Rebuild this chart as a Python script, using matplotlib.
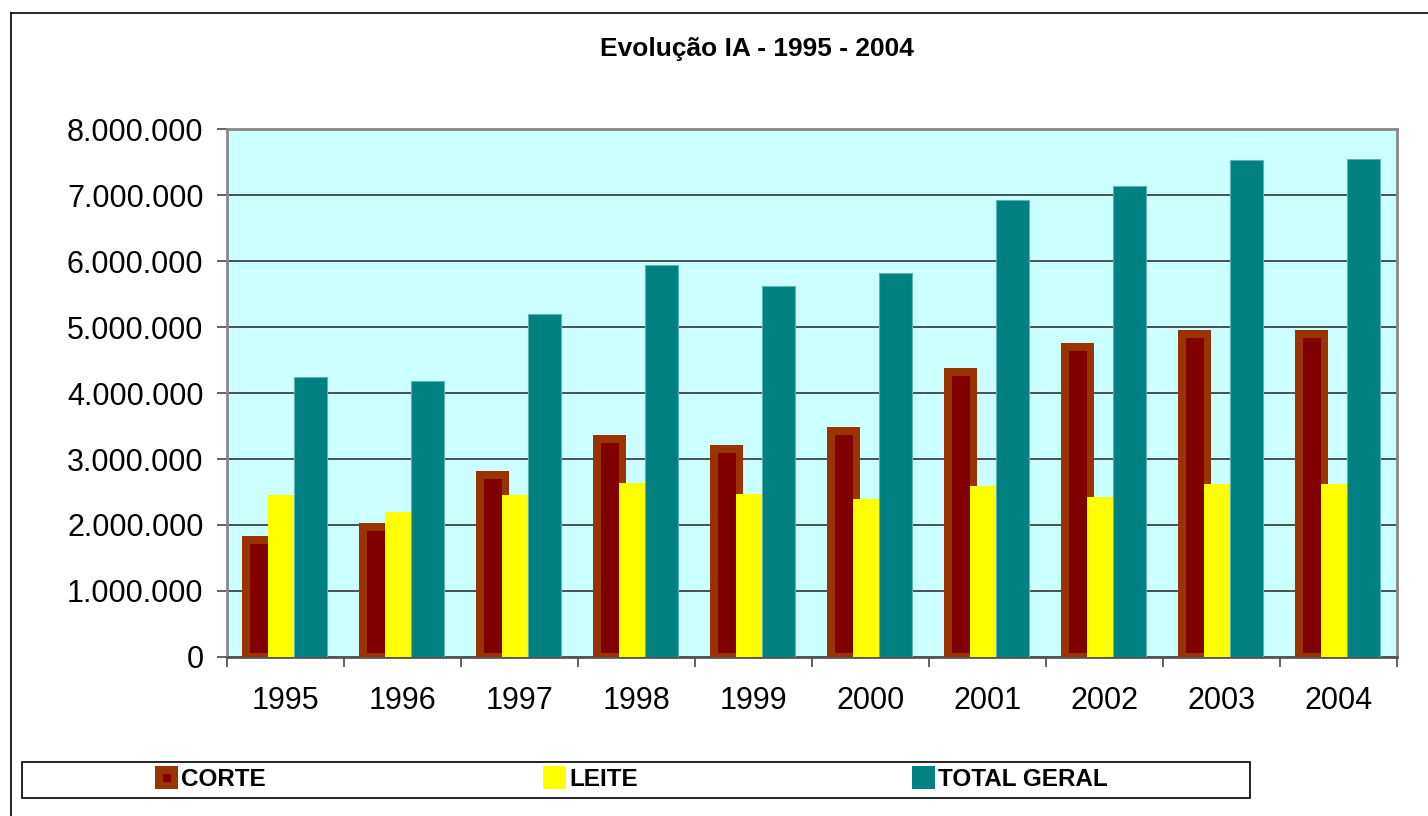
import numpy as np
import matplotlib.pyplot as plt
from matplotlib.patches import Rectangle
from matplotlib.lines import Line2D
from matplotlib.ticker import FuncFormatter, FixedLocator

plt.rcParams['font.family'] = ['Liberation Sans', 'DejaVu Sans']

anos = ['1995', '1996', '1997', '1998', '1999', '2000', '2001', '2002', '2003', '2004']
corte = [1830000, 2030000, 2820000, 3360000, 3210000, 3480000, 4380000, 4760000, 4950000, 4950000]
leite = [2450000, 2200000, 2450000, 2640000, 2470000, 2390000, 2590000, 2420000, 2620000, 2620000]
total_geral = [4240000, 4180000, 5200000, 5940000, 5620000, 5820000, 6920000, 7140000, 7530000, 7550000]
series_nomes = ['CORTE', 'LEITE', 'TOTAL GERAL']

W, H = 1428, 816
fig = plt.figure(figsize=(W / 100, H / 100), dpi=100)

# outer chart frame
fig.add_artist(Line2D([11 / W, 11 / W], [0, 1 - 13 / H], color='black', lw=1.2))
fig.add_artist(Line2D([11 / W, 1], [1 - 13 / H, 1 - 13 / H], color='black', lw=1.2))

ax = fig.add_axes([227 / W, 1 - 657 / H, (1397 - 227) / W, (657 - 129) / H])
ax.set_facecolor('#CCFFFF')

x = np.arange(len(anos))
cat_px = (1397 - 227) / len(anos)
w = 33.3 / cat_px
ins = 7.7 / cat_px
y_px = 8000000 / (657 - 129)

ax.bar(x - 0.371, corte, width=w, align='edge', color='#993300', zorder=3)
ax.bar(x - 0.371 + ins, np.array(corte) - 7.7 * y_px - 4 * y_px, bottom=4 * y_px,
       width=w - 2 * ins, align='edge', color='#800000', zorder=3)
ax.bar(x - 0.149, leite, width=w, align='edge', color='#FFFF00', zorder=4)
ax.bar(x + 0.073, total_geral, width=w, align='edge', color='#008080',
       edgecolor='#5FB3B3', linewidth=0.8, zorder=5)

ax.set_xlim(-0.5, len(anos) - 0.5)
ax.set_ylim(0, 8000000)
ax.set_yticks(np.arange(0, 8000001, 1000000))
ax.yaxis.set_major_formatter(FuncFormatter(lambda v, p: f'{int(v):,}'.replace(',', '.')))
ax.yaxis.grid(True, color='#333333', lw=1.2, zorder=1)

ax.xaxis.set_major_locator(FixedLocator(np.arange(-0.5, len(anos), 1)))
ax.xaxis.set_major_formatter(FuncFormatter(lambda v, p: ''))
ax.xaxis.set_minor_locator(FixedLocator(x))
ax.set_xticklabels(anos, minor=True)
ax.tick_params(axis='x', which='minor', length=0, labelsize=22, pad=21)
ax.tick_params(axis='x', which='major', length=7, width=1.3, color='#555555')
ax.tick_params(axis='y', length=7, width=1.3, color='#555555', labelsize=22, pad=10)

for s in ax.spines.values():
    s.set_color('#888888')
    s.set_linewidth(2)
ax.spines['bottom'].set_color('#555555')

fig.text(757 / W, 1 - 49 / H, 'Evolução IA - 1995 - 2004', ha='center', va='center',
         fontsize=19, fontweight='bold')

# legend box
fig.add_artist(Rectangle((22 / W, 1 - 798 / H), (1250 - 22) / W, 36 / H,
                         transform=fig.transFigure, facecolor='white',
                         edgecolor='black', lw=1.2))
leg_x = [155, 543, 912]
leg_cor = ['#993300', '#FFFF00', '#008080']
for i, nome in enumerate(series_nomes):
    fig.add_artist(Rectangle((leg_x[i] / W, 1 - 789 / H), 23 / W, 23 / H,
                             transform=fig.transFigure, facecolor=leg_cor[i], lw=0))
    if i == 0:
        fig.add_artist(Rectangle(((leg_x[i] + 8) / W, 1 - 782 / H), 8 / W, 8 / H,
                                 transform=fig.transFigure, facecolor='#800000', lw=0))
    fig.text((leg_x[i] + 26) / W, 1 - 780 / H, nome, ha='left', va='center',
             fontsize=17.5, fontweight='bold')

fig.savefig('out.png', dpi=100, facecolor='white')
